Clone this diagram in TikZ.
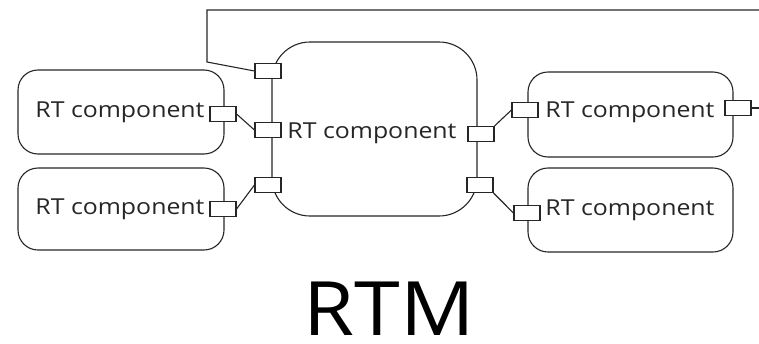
\documentclass[tikz,border=0pt]{standalone}
\usepackage{fontspec}
\setmainfont{Open Sans}
\newcommand{\wide}[1]{\scalebox{1.13}[1]{#1}}
\begin{document}
\begin{tikzpicture}[x=1pt,y=-1pt,
  line width=1.1pt, draw=black!85,
  comp/.style={draw=black!85, rectangle, rounded corners=20pt, inner sep=0pt},
  port/.style={draw=black!85, fill=white, rectangle, minimum width=26pt, minimum height=15pt, inner sep=0pt, line width=1.1pt},
  lbl/.style={inner sep=0pt, font=\fontsize{22}{24}\selectfont, text=black!85},
  wire/.style={draw=black!85, line width=1.1pt}]
\useasboundingbox (0,0) rectangle (759,343);
% components
\node[comp, minimum width=206pt, minimum height=84pt] (L1) at (121,112) {};
\node[comp, minimum width=206pt, minimum height=82pt] (L2) at (121,209) {};
\node[comp, rounded corners=38pt, minimum width=205pt, minimum height=174pt] (C) at (374.5,129) {};
\node[comp, minimum width=205pt, minimum height=85pt] (R1) at (630.5,114.5) {};
\node[comp, minimum width=205pt, minimum height=84pt] (R2) at (630.5,210) {};
% labels
\node[lbl] (tL1) at (120,112) {\wide{RT component}};
\node[lbl] (tL2) at (120,209) {\wide{RT component}};
\node[lbl] (tC) at (372,133) {\wide{RT component}};
\node[lbl] (tR1) at (630,112) {\wide{RT component}};
\node[lbl] (tR2) at (630,210) {\wide{RT component}};
\node[inner sep=0pt, font=\fontsize{75}{78}\selectfont, text=black, text height=54pt, text depth=0pt] (title) at (389,308) {\scalebox{1.1}[1]{RTM}};
% ports
\node[port] (pL1) at (223,114) {};
\node[port] (pL2) at (223,209) {};
\node[port] (pC1) at (268,71) {};
\node[port] (pC2) at (268,130) {};
\node[port] (pC3) at (268,185) {};
\node[port] (pC4) at (481,134) {};
\node[port] (pC5) at (480,185) {};
\node[port] (pR1a) at (525,110) {};
\node[port] (pR1b) at (738,108) {};
\node[port] (pR2) at (527,213) {};
% free ends
\coordinate (k1) at (207,62);
\coordinate (k2) at (207,10);
\coordinate (k3) at (759,10);
\coordinate (k4) at (759,108);
% wires
\draw[wire] (pL1.east) -- (pC2.west);
\draw[wire] (pL2.east) -- (pC3.west);
\draw[wire] (pC4.north east) -- (pR1a.west);
\draw[wire] (pC5.south east) -- (pR2.west);
\draw[wire] (pC1.west) -- (k1) -- (k2) -- (k3);
\draw[wire] (pR1b.east) -- (k4);
\end{tikzpicture}
\end{document}
